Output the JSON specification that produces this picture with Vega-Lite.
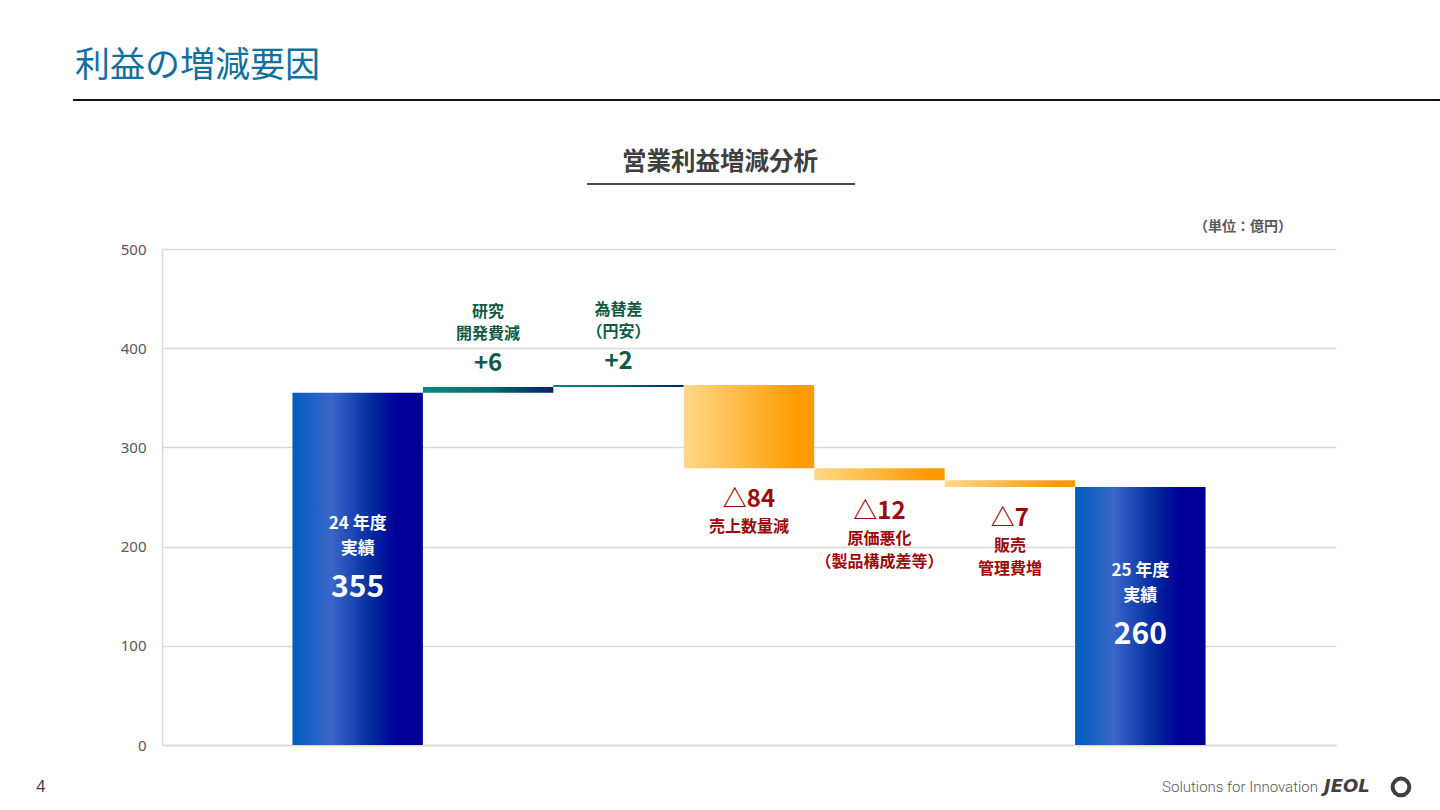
{
  "$schema": "https://vega.github.io/schema/vega-lite/v6.json",
  "width": 1174,
  "height": 496,
  "autosize": {"type": "none"},
  "padding": {"left": 162, "top": 249, "right": 104, "bottom": 65},
  "background": "white",
  "config": {"view": {"stroke": null}, "font": "Noto Sans CJK JP"},
  "data": {
    "values": [
      {"item": "24年度実績", "label": "24 年度\n実績", "vtext": "355", "start": 0, "end": 355, "mid": 177.5, "kind": "total"},
      {"item": "研究開発費減", "label": "研究\n開発費減", "vtext": "+6", "start": 355, "end": 361, "kind": "up"},
      {"item": "為替差（円安）", "label": "為替差\n（円安）", "vtext": "+2", "start": 361, "end": 363, "kind": "up"},
      {"item": "売上数量減", "label": "売上数量減", "vtext": "△84", "start": 363, "end": 279, "kind": "down"},
      {"item": "原価悪化", "label": "原価悪化\n（製品構成差等）", "vtext": "△12", "start": 279, "end": 267, "kind": "down"},
      {"item": "販売管理費増", "label": "販売\n管理費増", "vtext": "△7", "start": 267, "end": 260, "kind": "down"},
      {"item": "25年度実績", "label": "25 年度\n実績", "vtext": "260", "start": 0, "end": 260, "mid": 130, "kind": "total"}
    ]
  },
  "layer": [
    {
      "transform": [{"filter": "datum.kind === 'total'"}],
      "mark": {"type": "bar", "color": {"gradient": "linear", "x1": 0, "y1": 0, "x2": 1, "y2": 0, "stops": [{"offset": 0, "color": "#005EC0"}, {"offset": 0.3, "color": "#3A66C8"}, {"offset": 0.62, "color": "#00289C"}, {"offset": 0.8, "color": "#000099"}, {"offset": 1, "color": "#000099"}]}},
      "encoding": {
        "x": {"field": "item", "type": "nominal", "scale": {"domain": ["24年度実績", "研究開発費減", "為替差（円安）", "売上数量減", "原価悪化", "販売管理費増", "25年度実績"], "paddingInner": 0, "paddingOuter": 1}, "axis": {"labels": false, "ticks": false, "title": null, "domainColor": "#d9d9d9", "domainWidth": 1.5}},
        "y": {"field": "start", "type": "quantitative", "scale": {"domain": [0, 500], "nice": false}, "axis": {"values": [0, 100, 200, 300, 400, 500], "title": null, "ticks": false, "labelPadding": 16, "labelFontSize": 15, "labelFont": "Noto Sans", "labelColor": "#595959", "gridColor": "#d9d9d9", "gridWidth": 1.5, "domainColor": "#d9d9d9", "domainWidth": 1.5}},
        "y2": {"field": "end"}
      }
    },
    {
      "transform": [{"filter": "datum.kind === 'up'"}],
      "mark": {"type": "bar", "color": {"gradient": "linear", "x1": 0, "y1": 0, "x2": 1, "y2": 0, "stops": [{"offset": 0, "color": "#008A7E"}, {"offset": 0.5, "color": "#006E70"}, {"offset": 1, "color": "#00206E"}]}},
      "encoding": {
        "x": {"field": "item", "type": "nominal"},
        "y": {"field": "start", "type": "quantitative"},
        "y2": {"field": "end"}
      }
    },
    {
      "transform": [{"filter": "datum.kind === 'down'"}],
      "mark": {"type": "bar", "color": {"gradient": "linear", "x1": 0, "y1": 0, "x2": 1, "y2": 0, "stops": [{"offset": 0, "color": "#FFD98A"}, {"offset": 0.88, "color": "#FF9A00"}, {"offset": 1, "color": "#FF9A00"}]}},
      "encoding": {
        "x": {"field": "item", "type": "nominal"},
        "y": {"field": "start", "type": "quantitative"},
        "y2": {"field": "end"}
      }
    },
    {
      "transform": [{"filter": "datum.kind === 'total'"}],
      "mark": {"type": "text", "color": "white", "fontWeight": "bold", "fontSize": 17, "lineBreak": "\n", "lineHeight": 25, "baseline": "middle", "dy": -45},
      "encoding": {
        "x": {"field": "item", "type": "nominal"},
        "y": {"field": "mid", "type": "quantitative"},
        "text": {"field": "label"}
      }
    },
    {
      "transform": [{"filter": "datum.kind === 'total'"}],
      "mark": {"type": "text", "color": "white", "fontWeight": "bold", "fontSize": 30, "baseline": "middle", "dy": 19},
      "encoding": {
        "x": {"field": "item", "type": "nominal"},
        "y": {"field": "mid", "type": "quantitative"},
        "text": {"field": "vtext"}
      }
    },
    {
      "transform": [{"filter": "datum.kind === 'up'"}],
      "mark": {"type": "text", "color": "#0E5A44", "fontWeight": "bold", "fontSize": 16, "lineBreak": "\n", "lineHeight": 22, "baseline": "middle", "dy": -75},
      "encoding": {
        "x": {"field": "item", "type": "nominal"},
        "y": {"field": "end", "type": "quantitative"},
        "text": {"field": "label"}
      }
    },
    {
      "transform": [{"filter": "datum.kind === 'up'"}],
      "mark": {"type": "text", "color": "#0E5A44", "fontWeight": "bold", "fontSize": 24, "baseline": "middle", "dy": -23},
      "encoding": {
        "x": {"field": "item", "type": "nominal"},
        "y": {"field": "end", "type": "quantitative"},
        "text": {"field": "vtext"}
      }
    },
    {
      "transform": [{"filter": "datum.kind === 'down'"}],
      "mark": {"type": "text", "color": "#9B0A0A", "fontWeight": "bold", "fontSize": 16, "lineBreak": "\n", "lineHeight": 23, "baseline": "top", "dy": 51},
      "encoding": {
        "x": {"field": "item", "type": "nominal"},
        "y": {"field": "end", "type": "quantitative"},
        "text": {"field": "label"}
      }
    },
    {
      "transform": [{"filter": "datum.kind === 'down'"}],
      "mark": {"type": "text", "color": "#9B0A0A", "fontWeight": "bold", "fontSize": 24, "baseline": "middle", "dy": 32},
      "encoding": {
        "x": {"field": "item", "type": "nominal"},
        "y": {"field": "end", "type": "quantitative"},
        "text": {"field": "vtext"}
      }
    },
    {
      "data": {"values": [{"t": "利益の増減要因"}]},
      "mark": {"type": "text", "color": "#1270A0", "fontSize": 35, "fontWeight": "normal", "align": "left", "baseline": "alphabetic"},
      "encoding": {
        "x": {"datum": "24年度実績", "bandPosition": -1.667},
        "y": {"datum": 673.4, "type": "quantitative"},
        "text": {"field": "t"}
      }
    },
    {
      "data": {"values": [{"t": "header line"}]},
      "mark": {"type": "rule", "color": "#111111", "strokeWidth": 2},
      "encoding": {
        "x": {"datum": "24年度実績", "bandPosition": -1.682},
        "x2": {"datum": "25年度実績", "bandPosition": 2.797},
        "y": {"datum": 650.2, "type": "quantitative"}
      }
    },
    {
      "data": {"values": [{"t": "営業利益増減分析"}]},
      "mark": {"type": "text", "color": "#404040", "fontSize": 24.5, "fontWeight": "bold", "align": "center", "baseline": "middle"},
      "encoding": {
        "x": {"datum": "売上数量減", "bandPosition": 0.278},
        "y": {"datum": 586.7, "type": "quantitative"},
        "text": {"field": "t"}
      }
    },
    {
      "data": {"values": [{"t": "underline"}]},
      "mark": {"type": "rule", "color": "#111111", "strokeWidth": 1.5},
      "encoding": {
        "x": {"datum": "為替差（円安）", "bandPosition": 0.258},
        "x2": {"datum": "原価悪化", "bandPosition": 0.313},
        "y": {"datum": 565.5, "type": "quantitative"}
      }
    },
    {
      "data": {"values": [{"t": "（単位：億円）"}]},
      "mark": {"type": "text", "color": "#595959", "fontSize": 14, "fontWeight": "bold", "align": "center", "baseline": "middle"},
      "encoding": {
        "x": {"datum": "25年度実績", "bandPosition": 1.287},
        "y": {"datum": 522.2, "type": "quantitative"},
        "text": {"field": "t"}
      }
    },
    {
      "data": {"values": [{"t": "Solutions for Innovation"}]},
      "mark": {"type": "text", "color": "#595959", "fontSize": 15, "font": "Roboto", "fontWeight": 300, "align": "right", "baseline": "middle"},
      "encoding": {
        "x": {"datum": "25年度実績", "bandPosition": 1.862},
        "y": {"datum": -42.3, "type": "quantitative"},
        "text": {"field": "t"}
      }
    },
    {
      "data": {"values": [{"t": "JEOL"}]},
      "mark": {"type": "text", "color": "#404040", "fontSize": 18, "font": "DejaVu Sans", "fontWeight": "bold", "fontStyle": "italic", "align": "left", "baseline": "middle"},
      "encoding": {
        "x": {"datum": "25年度実績", "bandPosition": 1.908},
        "y": {"datum": -42.3, "type": "quantitative"},
        "text": {"field": "t"}
      }
    },
    {
      "data": {"values": [{"t": "logo"}]},
      "mark": {"type": "point", "shape": "circle", "filled": false, "color": "#404040", "strokeWidth": 4, "size": 280, "opacity": 1},
      "encoding": {
        "x": {"datum": "25年度実績", "bandPosition": 2.498},
        "y": {"datum": -42.3, "type": "quantitative"}
      }
    },
    {
      "data": {"values": [{"t": "4"}]},
      "mark": {"type": "text", "color": "#404040", "fontSize": 16, "font": "Noto Sans", "align": "center", "baseline": "middle"},
      "encoding": {
        "x": {"datum": "24年度実績", "bandPosition": -1.928},
        "y": {"datum": -42.3, "type": "quantitative"},
        "text": {"field": "t"}
      }
    }
  ]
}
